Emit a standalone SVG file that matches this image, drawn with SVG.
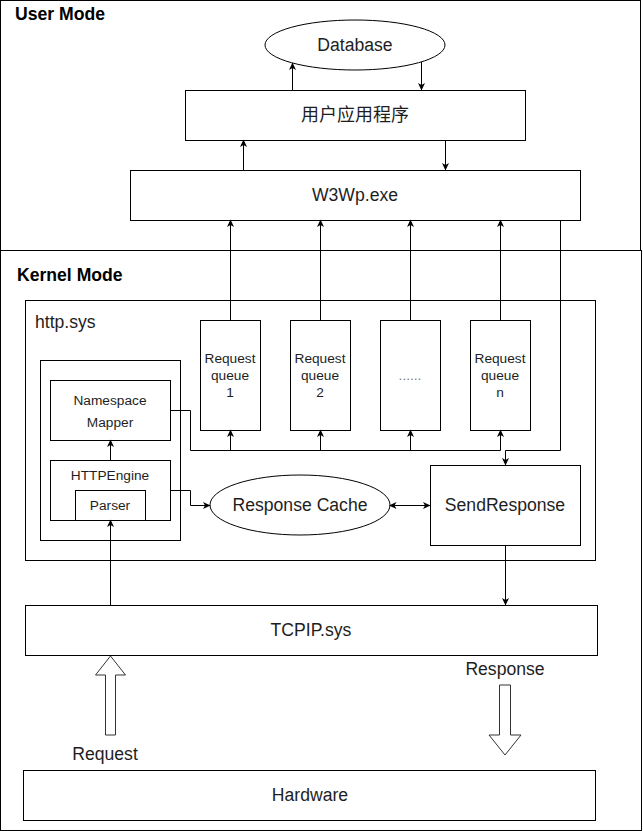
<svg xmlns="http://www.w3.org/2000/svg" width="643" height="831" viewBox="0 0 643 831">
<defs>
<marker id="arr" markerWidth="8" markerHeight="8" refX="7" refY="4" orient="auto" markerUnits="userSpaceOnUse">
<path d="M0,0.5 L7.5,4 L0,7.5 L2,4 z" fill="#000"/>
</marker>
<marker id="arrS" markerWidth="8" markerHeight="8" refX="1" refY="4" orient="auto" markerUnits="userSpaceOnUse">
<path d="M7.5,0.5 L0,4 L7.5,7.5 L5.5,4 z" fill="#000"/>
</marker>
<style>
.box{fill:#fff;stroke:#000;stroke-width:1}
.open{fill:none;stroke:#000;stroke-width:1}
.t{font-family:"Liberation Sans",Arial,sans-serif;font-size:17.6px;fill:#1e1e1e;text-anchor:middle;dominant-baseline:central}
.s{font-size:13.7px}
.h{font-family:"Liberation Sans",Arial,sans-serif;font-size:17.6px;font-weight:bold;fill:#000}
.c{fill:none;stroke:#000;stroke-width:1}
.ca{fill:none;stroke:#000;stroke-width:1;marker-end:url(#arr)}
.hollow{fill:#fff;stroke:#333;stroke-width:1}
</style>
</defs>
<rect width="643" height="831" fill="#fff"/>

<g id="user-mode">
<rect class="open" x="0.5" y="0.5" width="640" height="250"/>
<text class="h" x="15" y="20">User Mode</text>
</g>
<g id="kernel-mode">
<rect class="open" x="0.5" y="250.5" width="641" height="580"/>
<text class="h" x="17" y="281">Kernel Mode</text>
</g>
<g id="http-sys">
<rect class="open" x="25.5" y="300.5" width="570" height="260"/>
<text class="t" x="35" y="322" style="text-anchor:start">http.sys</text>
</g>
<g id="engine-group">
<rect class="open" x="40.5" y="360.5" width="140" height="180"/>
</g>

<g id="database">
<ellipse class="box" cx="355" cy="45" rx="90" ry="25"/>
<text class="t" x="355" y="45">Database</text>
</g>
<g id="app">
<rect class="box" x="185.5" y="90.5" width="340" height="50"/>
<text class="t" x="355" y="115" style="font-family:'Liberation Sans','Noto Sans CJK SC',sans-serif;font-size:18px">用户应用程序</text>
</g>
<g id="w3wp">
<rect class="box" x="130.5" y="170.5" width="450" height="50"/>
<text class="t" x="355" y="195">W3Wp.exe</text>
</g>
<g id="queue1">
<rect class="box" x="200.5" y="320.5" width="60" height="110"/>
<text class="t s" x="230" y="358">Request</text>
<text class="t s" x="230" y="375">queue</text>
<text class="t s" x="230" y="392">1</text>
</g>
<g id="queue2">
<rect class="box" x="290.5" y="320.5" width="60" height="110"/>
<text class="t s" x="320" y="358">Request</text>
<text class="t s" x="320" y="375">queue</text>
<text class="t s" x="320" y="392">2</text>
</g>
<g id="queue-more">
<rect class="box" x="380.5" y="320.5" width="60" height="110"/>
<text class="t s" x="410" y="375" style="fill:#777">......</text>
</g>
<g id="queuen">
<rect class="box" x="470.5" y="320.5" width="60" height="110"/>
<text class="t s" x="500" y="358">Request</text>
<text class="t s" x="500" y="375">queue</text>
<text class="t s" x="500" y="392">n</text>
</g>
<g id="namespace-mapper">
<rect class="box" x="50.5" y="380.5" width="120" height="60"/>
<text class="t s" x="110" y="400">Namespace</text>
<text class="t s" x="110" y="422">Mapper</text>
</g>
<g id="httpengine">
<rect class="box" x="50.5" y="460.5" width="120" height="60"/>
<text class="t s" x="110" y="475">HTTPEngine</text>
</g>
<g id="parser">
<rect class="box" x="75.5" y="490.5" width="70" height="30"/>
<text class="t s" x="110" y="505">Parser</text>
</g>
<g id="response-cache">
<ellipse class="box" cx="300" cy="505" rx="90" ry="30"/>
<text class="t" x="300" y="505">Response Cache</text>
</g>
<g id="sendresponse">
<rect class="box" x="430.5" y="465.5" width="150" height="80"/>
<text class="t" x="505" y="505">SendResponse</text>
</g>
<g id="tcpip">
<rect class="box" x="25.5" y="605.5" width="572" height="50"/>
<text class="t" x="311" y="630">TCPIP.sys</text>
</g>
<g id="hardware">
<rect class="box" x="23.5" y="770.5" width="572" height="50"/>
<text class="t" x="310" y="795">Hardware</text>
</g>
<g id="request-arrow">
<polygon class="hollow" points="110.5,656 125.5,675 115.5,675 115.5,735 105.5,735 105.5,675 95.5,675"/>
<text class="t" x="105" y="754">Request</text>
</g>
<g id="response-arrow">
<polygon class="hollow" points="499.5,685 510.5,685 510.5,735 521,735 505,755 489,735 499.5,735"/>
<text class="t" x="505" y="669">Response</text>
</g>

<g id="connectors">
<path class="ca" d="M292.5,90 V63"/>
<path class="ca" d="M421.5,62 V90"/>
<path class="ca" d="M243.5,170 V140"/>
<path class="ca" d="M445.5,140 V170"/>
<path class="ca" d="M230.5,320 V220"/>
<path class="ca" d="M320.5,320 V220"/>
<path class="ca" d="M410.5,320 V220"/>
<path class="ca" d="M500.5,320 V220"/>
<path class="c" d="M170,410.5 H190.5 V450.5 H500.5"/>
<path class="ca" d="M230.5,450.5 V430"/>
<path class="ca" d="M320.5,450.5 V430"/>
<path class="ca" d="M410.5,450.5 V430"/>
<path class="ca" d="M500.5,450.5 V430"/>
<path class="ca" d="M560.5,220 V450.5 H505.5 V465"/>
<path class="ca" d="M170,490.5 H190.5 V505.5 H210"/>
<path class="c" d="M390,505.5 H430" marker-start="url(#arrS)" marker-end="url(#arr)"/>
<path class="ca" d="M505.5,545 V605"/>
<path class="ca" d="M110.5,605 V520"/>
<path class="ca" d="M110.5,460 V440"/>
</g>
</svg>
